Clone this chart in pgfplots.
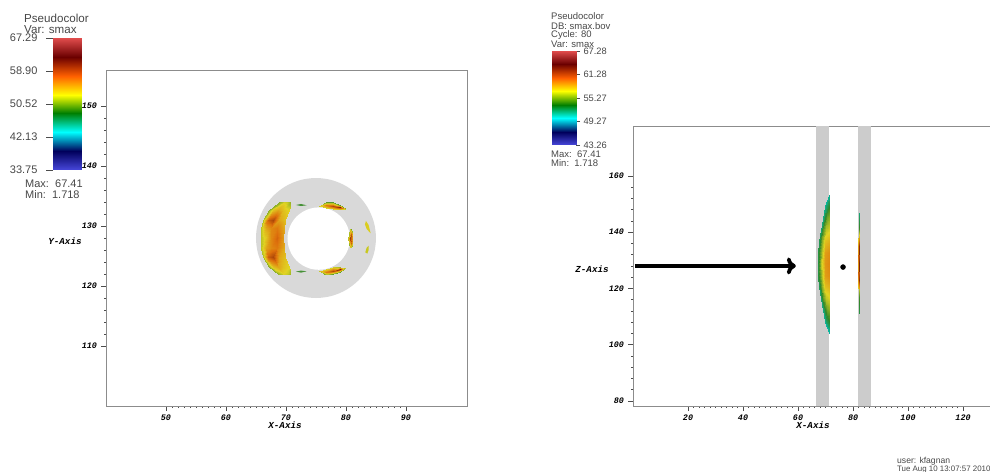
\documentclass[border=0pt]{standalone}
\usepackage{fontspec}
\setmainfont{Liberation Sans}
\newfontfamily\tickfont{Liberation Mono}
\usepackage{pgfplots}
\usetikzlibrary{arrows.meta}
\pgfplotsset{compat=1.18}
\pgfplotsset{
 /pgfplots/colormap={hd}{rgb255=(71,71,219) rgb255=(0,0,91) rgb255=(0,255,255) rgb255=(0,127,0) rgb255=(255,255,0) rgb255=(255,96,0) rgb255=(107,0,0) rgb255=(224,76,76)},
 /pgfplots/colormap={hdsoft}{rgb255=(71,71,219) rgb255=(0,0,91) rgb255=(0,190,180) rgb255=(50,135,40) rgb255=(225,212,35) rgb255=(222,112,12) rgb255=(112,22,5) rgb255=(224,76,76)},
 vis/.style={colormap name=hdsoft, scale only axis, anchor=south west, axis line style={black!45,line width=0.7pt},
   tick style={black!70,line width=0.5pt}, xtick pos=bottom, ytick pos=left, tick align=outside,
   major tick length=5pt, minor tick length=2pt,
   yticklabel style={xshift=-0.5pt},
   tick label style={font=\tickfont\bfseries\itshape\fontsize{8.4}{9}\selectfont, black},
   /pgf/number format/assume math mode=true, point meta min=0, point meta max=1},
 cbar/.style={colormap name=hd, scale only axis, anchor=south west, axis line style={draw=none}, xmin=0, xmax=1, xtick=\empty,
   tick style={black!70,line width=0.5pt}, major tick length=7pt, tick align=outside, axis on top=false,
   point meta min=0, point meta max=1, tick label style={font=\fontsize{11}{12}\selectfont,text=black!72},
   /pgf/number format/assume math mode=true},
 blob/.style={surf, shader=interp, point meta=\thisrow{c}}
}
\def\px#1#2{(#1pt,{471pt-#2pt})}
\begin{document}
\begin{tikzpicture}
\useasboundingbox (0,0) rectangle (990pt,471pt);
\clip (0,0) rectangle (990pt,471pt);
% left plot
\begin{axis}[vis, at={(106pt,65pt)}, width=361pt, height=336pt, xmin=40, xmax=100.17, ymin=100, ymax=156,
  xtick={50,60,70,80,90}, ytick={110,120,130,140,150}, minor x tick num=9, minor y tick num=4]
\addplot[fill=black!15, draw=none, smooth cycle, tension=0.55] coordinates {(85,128) (84.66,130.59) (83.66,133) (82.07,135.07) (80,136.66) (77.59,137.66) (75,138) (72.41,137.66) (70,136.66) (67.93,135.07) (66.34,133) (65.34,130.59) (65,128) (65.34,125.41) (66.34,123) (67.93,120.93) (70,119.34) (72.41,118.34) (75,118) (77.59,118.34) (80,119.34) (82.07,120.93) (83.66,123) (84.66,125.41)};
\addplot[fill=white, draw=none, smooth cycle, tension=0.55] coordinates {(80.65,127.9) (80.47,129.25) (79.95,130.5) (79.13,131.58) (78.05,132.4) (76.8,132.92) (75.45,133.1) (74.1,132.92) (72.85,132.4) (71.77,131.58) (70.95,130.5) (70.43,129.25) (70.25,127.9) (70.43,126.55) (70.95,125.3) (71.77,124.22) (72.85,123.4) (74.1,122.88) (75.45,122.7) (76.8,122.88) (78.05,123.4) (79.13,124.22) (79.95,125.3) (80.47,126.55)};
\addplot[blob, mesh/cols=5] table {
x y c
68.89 134.06 .50
69.27 134.06 .53
69.74 134.06 .56
70.21 134.06 .55
70.77 134.06 .50
67.16 132.67 .50
67.82 132.67 .60
68.64 132.67 .64
69.46 132.67 .60
70.44 132.67 .57
66.22 131.01 .53
66.95 131.01 .74
67.87 131.01 .78
68.79 131.01 .64
69.89 131.01 .60
65.89 129.62 .54
66.63 129.62 .64
67.56 129.62 .68
68.49 129.62 .70
69.61 129.62 .63
65.77 127.95 .54
66.53 127.95 .58
67.47 127.95 .68
68.42 127.95 .73
69.55 127.95 .66
65.89 126.28 .54
66.63 126.28 .64
67.56 126.28 .68
68.49 126.28 .70
69.61 126.28 .63
66.22 124.89 .53
66.95 124.89 .74
67.87 124.89 .78
68.79 124.89 .64
69.89 124.89 .60
67.16 123.23 .50
67.82 123.23 .60
68.64 123.23 .64
69.46 123.23 .60
70.44 123.23 .57
68.89 121.84 .50
69.27 121.84 .53
69.74 121.84 .56
70.21 121.84 .55
70.77 121.84 .50
};
\addplot[blob, mesh/cols=5] table {
x y c
75.55 133.39 .55
76.66 134.06 .46
77.89 133.95 .46
78.99 133.50 .46
79.89 132.95 .50
75.55 133.39 .58
76.66 133.56 .70
77.89 133.37 .78
78.99 133.09 .84
79.89 132.90 .55
75.55 133.39 .55
76.66 133.06 .56
77.89 132.78 .56
78.99 132.67 .52
79.89 132.84 .50
};
\addplot[blob, mesh/cols=5] table {
x y c
75.55 122.51 .55
76.66 122.84 .56
77.89 123.12 .56
78.99 123.23 .52
79.89 123.06 .50
75.55 122.51 .58
76.66 122.34 .70
77.89 122.53 .78
78.99 122.81 .84
79.89 123.00 .55
75.55 122.51 .55
76.66 121.84 .46
77.89 121.95 .46
78.99 122.40 .46
79.89 122.95 .50
};
\addplot[blob, mesh/cols=3] table {
x y c
80.61 129.51 .48
80.75 129.51 .55
80.89 129.51 .48
80.44 128.73 .52
80.78 128.73 .74
81.11 128.73 .55
80.33 127.95 .55
80.75 127.95 .80
81.16 127.95 .60
80.44 127.17 .52
80.78 127.17 .74
81.11 127.17 .55
80.61 126.39 .48
80.75 126.39 .55
80.89 126.39 .48
};
\addplot[fill={rgb,255:red,70;green,145;blue,55}, draw=none] coordinates {(71.66,133.5) (72.5,133.67) (73.44,133.45) (72.5,133.33)} --cycle;
\addplot[fill={rgb,255:red,70;green,145;blue,55}, draw=none] coordinates {(71.66,122.4) (72.5,122.57) (73.44,122.45) (72.5,122.23)} --cycle;
\addplot[fill={rgb,255:red,218;green,205;blue,30}, draw=none] coordinates {(83.33,130.84) (83.77,130.17) (84.11,128.78) (83.44,129.5) (83.16,130.28)} --cycle;
\addplot[fill={rgb,255:red,200;green,200;blue,30}, draw=none] coordinates {(83.22,125.6) (83.44,126.39) (83.77,126.72) (83.77,126.0) (83.55,125.39)} --cycle;
\end{axis}
% right plot
\begin{axis}[vis, at={(633pt,65pt)}, width=357pt, height=280pt, xmin=0, xmax=129.8, ymin=78.15, ymax=177.8,
  xtick={20,40,60,80,100,120}, ytick={80,100,120,140,160}, minor x tick num=9, minor y tick num=4]
\addplot[fill=black!20, draw=none] coordinates {(66.55,78.15) (71.27,78.15) (71.27,177.8) (66.55,177.8)} --cycle;
\addplot[fill=black!20, draw=none] coordinates {(81.82,78.15) (86.55,78.15) (86.55,177.8) (81.82,177.8)} --cycle;
\addplot[blob, mesh/cols=4] table {
x y c
71.09 153.2 .28
71.14 153.2 .29
71.20 153.2 .30
71.27 153.2 .32
69.89 149.15 .32
70.30 149.15 .36
70.72 149.15 .40
71.27 149.15 .42
69.02 145.05 .34
69.70 145.05 .42
70.37 145.05 .48
71.27 145.05 .50
68.25 140.95 .36
69.16 140.95 .46
70.06 140.95 .54
71.27 140.95 .56
67.71 136.85 .38
68.78 136.85 .50
69.85 136.85 .60
71.27 136.85 .62
67.38 132.75 .40
68.55 132.75 .54
69.72 132.75 .65
71.27 132.75 .67
67.27 128.65 .40
68.47 128.65 .54
69.67 128.65 .66
71.27 128.65 .68
67.38 124.55 .40
68.55 124.55 .54
69.72 124.55 .65
71.27 124.55 .67
67.71 120.45 .38
68.78 120.45 .50
69.85 120.45 .60
71.27 120.45 .62
68.25 116.35 .36
69.16 116.35 .46
70.06 116.35 .54
71.27 116.35 .56
69.02 112.25 .34
69.70 112.25 .42
70.37 112.25 .48
71.27 112.25 .50
69.89 108.15 .32
70.30 108.15 .36
70.72 108.15 .40
71.27 108.15 .42
71.09 104.1 .28
71.14 104.1 .29
71.20 104.1 .30
71.27 104.1 .32
};
\addplot[blob, mesh/cols=3] table {
x y c
82.12 146.84 .30
82.2 146.84 .40
82.28 146.84 .35
82.05 141.14 .50
82.2 141.14 .44
82.35 141.14 .48
81.9 135.1 .66
82.15 135.1 .82
82.4 135.1 .66
81.9 129.04 .66
82.15 129.04 .84
82.4 129.04 .66
81.9 123 .66
82.15 123 .82
82.4 123 .66
82.05 116.95 .50
82.2 116.95 .44
82.35 116.95 .48
82.12 111.24 .30
82.2 111.24 .40
82.28 111.24 .35
};
\addplot[black, line width=4.4pt, -{Computer Modern Rightarrow[length=9pt,width=17pt,line width=3.8pt]}] coordinates {(0.7,128) (59.2,128)};
\addplot[only marks, mark=*, mark size=2.5pt, black] coordinates {(76.36,127.6)};
\end{axis}
% left colour bar
\begin{axis}[cbar, at={(53pt,301pt)}, width=29pt, height=132pt, ymin=33.75, ymax=67.29,
  yticklabel style={xshift=-5pt},
  ytick={33.75,42.13,50.52,58.90,67.29}, yticklabels={33.75,42.13,50.52,58.90,67.29}, ytick pos=left]
\addplot[surf, shader=interp, mesh/cols=2, point meta=\thisrow{c}] table {
x y c
0 33.75 0
1 33.75 0
0 38.54 .1429
1 38.54 .1429
0 43.33 .2857
1 43.33 .2857
0 48.12 .4286
1 48.12 .4286
0 52.92 .5714
1 52.92 .5714
0 57.71 .7143
1 57.71 .7143
0 62.50 .8571
1 62.50 .8571
0 67.29 1
1 67.29 1
};
\end{axis}
% right colour bar
\begin{axis}[cbar, at={(552pt,326pt)}, width=24pt, height=94pt, ymin=43.26, ymax=67.28, major tick length=4pt,
  tick label style={font=\fontsize{9.3}{10}\selectfont,text=black!72},
  ytick={43.26,49.27,55.27,61.28,67.28}, yticklabels={43.26,49.27,55.27,61.28,67.28}, ytick pos=right]
\addplot[surf, shader=interp, mesh/cols=2, point meta=\thisrow{c}] table {
x y c
0 43.26 0
1 43.26 0
0 46.69 .1429
1 46.69 .1429
0 50.12 .2857
1 50.12 .2857
0 53.55 .4286
1 53.55 .4286
0 56.99 .5714
1 56.99 .5714
0 60.42 .7143
1 60.42 .7143
0 63.85 .8571
1 63.85 .8571
0 67.28 1
1 67.28 1
};
\end{axis}
% text
\tikzset{lbl/.style={anchor=west, inner sep=0pt, text=black!72, font=\fontsize{11.6}{12}\selectfont},
 lbm/.style={anchor=west, inner sep=0pt, text=black!72, font=\fontsize{11}{12}\selectfont},
 lbs/.style={anchor=west, inner sep=0pt, text=black!72, font=\fontsize{9.5}{10}\selectfont},
 lbu/.style={anchor=west, inner sep=0pt, text=black!72, font=\fontsize{8.6}{10}\selectfont},
 axl/.style={inner sep=0pt, text=black, font=\tickfont\bfseries\itshape\fontsize{9.2}{10}\selectfont}}
\node[lbl] at \px{24}{18} {Pseudocolor};
\node[lbl] at \px{24}{30} {Var: smax};
\node[lbm] at \px{25}{184} {Max:\ \ 67.41};
\node[lbm] at \px{25}{195} {Min:\ \ 1.718};
\node[lbs] at \px{551}{16} {Pseudocolor};
\node[lbs] at \px{551}{26} {DB: smax.bov};
\node[lbs] at \px{551}{35} {Cycle: 80};
\node[lbs] at \px{551}{44} {Var: smax};
\node[lbs] at \px{551}{154} {Max:\ \ 67.41};
\node[lbs] at \px{551}{163} {Min:\ \ 1.718};
\node[lbu] at \px{897}{461} {user: kfagnan};
\node[lbu, font=\fontsize{7.9}{10}\selectfont] at \px{897}{470} {Tue Aug 10 13:07:57 2010};
\node[axl] at \px{65}{241} {Y-Axis};
\node[axl] at \px{285}{425} {X-Axis};
\node[axl] at \px{592}{269} {Z-Axis};
\node[axl] at \px{813}{425} {X-Axis};
\end{tikzpicture}
\end{document}
